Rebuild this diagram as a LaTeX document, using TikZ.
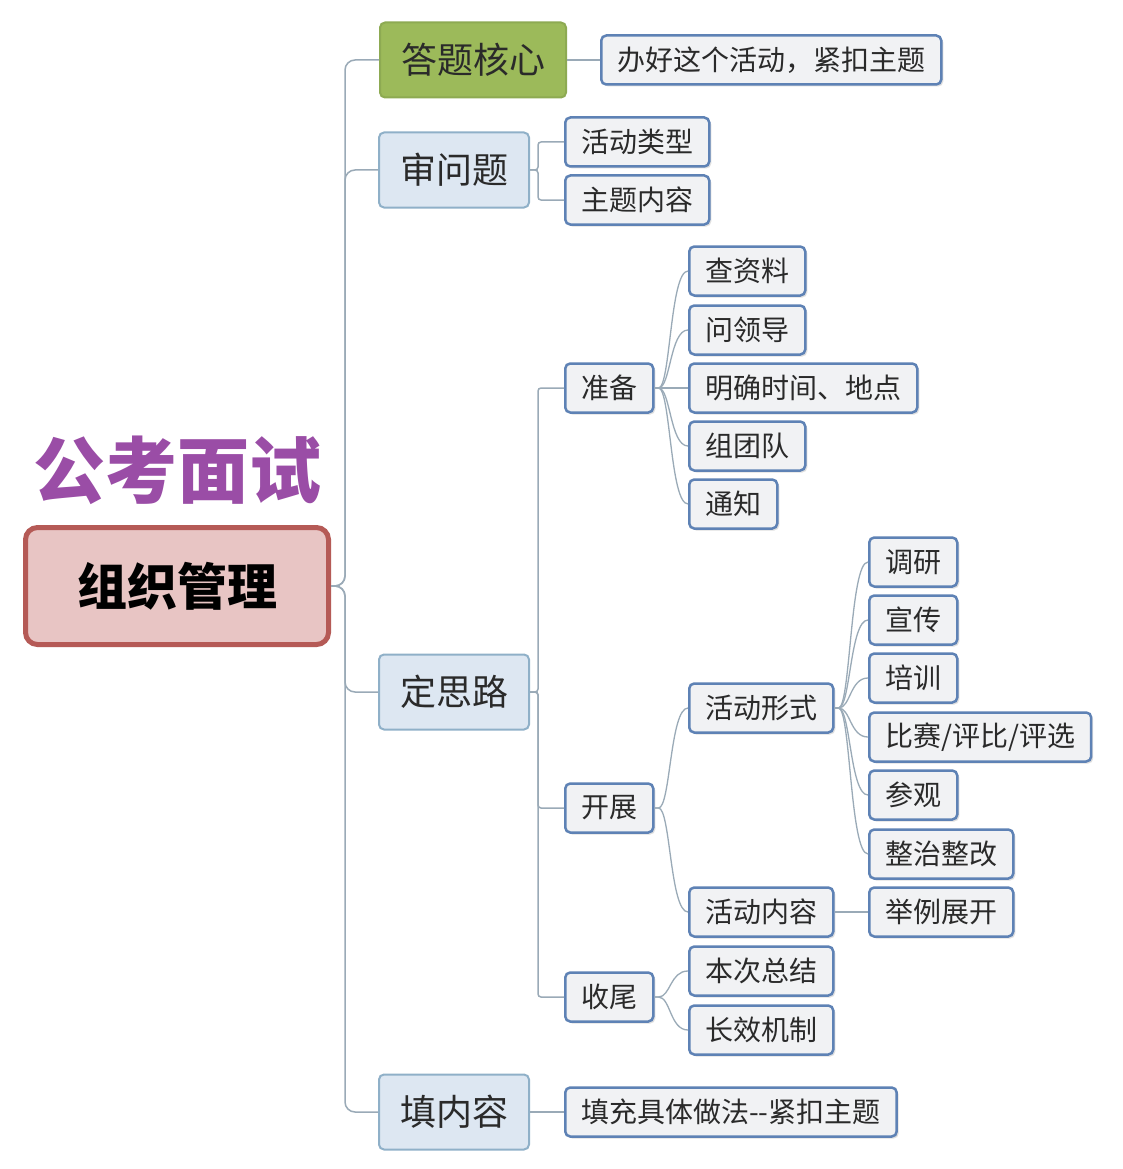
\documentclass[tikz,border=0pt]{standalone}
\usepackage{fontspec}
\setmainfont{Noto Sans CJK SC}
\usetikzlibrary{shadows}
\definecolor{txt}{HTML}{2A2A2A}
\definecolor{leafline}{HTML}{5E82B5}
\definecolor{leaffill}{HTML}{F1F2F4}
\definecolor{branchline}{HTML}{8FB0C8}
\definecolor{branchfill}{HTML}{DDE7F2}
\definecolor{keyfill}{HTML}{9CBA5A}
\definecolor{keyline}{HTML}{8DAA52}
\definecolor{rootfill}{HTML}{E8C5C4}
\definecolor{rootline}{HTML}{B55A56}
\definecolor{titlec}{HTML}{9A4DA6}
\definecolor{linkc}{HTML}{9AAAB7}

\begin{document}
\begin{tikzpicture}[x=1pt,y=-1pt,
  box/.style={rounded corners=5pt,text=txt,inner ysep=0pt,align=center},
  leaf/.style={box,anchor=west,draw=leafline,line width=2.5pt,fill=leaffill,minimum height=49pt,inner xsep=16pt,
    font=\fontsize{28}{30}\selectfont,drop shadow={opacity=0.25,shadow xshift=2pt,shadow yshift=-2pt}},
  branch/.style={box,draw=branchline,line width=2pt,fill=branchfill,minimum height=75pt,inner xsep=21pt,
    font=\fontsize{36}{40}\selectfont},
  key/.style={branch,draw=keyline,fill=keyfill},
  link/.style={draw=linkc,line width=1.5pt},
  fan/.style={draw=linkc,line width=1.3pt}]
\fill[white] (0,0) rectangle (1122,1169);
\useasboundingbox (0,0) rectangle (1122,1169);

\node[text=titlec,font=\fontsize{72}{80}\bfseries\selectfont] (gkms) at (177,470) {公考面试};
\node[draw=rootline,fill=rootfill,line width=5pt,rounded corners=12pt,minimum width=303pt,minimum height=117pt,
  text=black,font=\fontsize{50}{56}\bfseries\selectfont] (zzgl) at (177,586) {组织管理};

\node[key] (dthx) at (473,60) {答题核心};
\node[branch] (swt) at (454,170) {审问题};
\node[branch] (dsl) at (454,692) {定思路};
\node[branch] (tnr) at (454,1112) {填内容};

\node[leaf] (bhzg) at (600,60) {办好这个活动，紧扣主题};
\node[leaf] (hdlx) at (564,142) {活动类型};
\node[leaf] (ztnr) at (564,200) {主题内容};
\node[leaf] (tczt) at (564,1112) {填充具体做法-{}-紧扣主题};

\node[leaf] (zb) at (564,388) {准备};
\node[leaf] (kz) at (564,808) {开展};
\node[leaf] (sw) at (564,997) {收尾};

\node[leaf] (czl) at (688,271) {查资料};
\node[leaf] (wld) at (688,330) {问领导};
\node[leaf] (mqsj) at (688,388) {明确时间、地点};
\node[leaf] (ztd) at (688,446) {组团队};
\node[leaf] (tz) at (688,504) {通知};

\node[leaf] (hdxs) at (688,708) {活动形式};
\node[leaf] (hdnr) at (688,912) {活动内容};

\node[leaf] (dy) at (868,562) {调研};
\node[leaf] (xc) at (868,620) {宣传};
\node[leaf] (px) at (868,678) {培训};
\node[leaf] (bs) at (868,737) {比赛/评比/评选};
\node[leaf] (cg) at (868,795) {参观};
\node[leaf] (zzzg) at (868,854) {整治整改};
\node[leaf] (jlzk) at (868,912) {举例展开};

\node[leaf] (bczj) at (688,971) {本次总结};
\node[leaf] (cxjz) at (688,1030) {长效机制};

\foreach \b in {dthx,swt,dsl,tnr}
  \draw[link,rounded corners=10pt] (zzgl.east) -- ++(14,0) |- (\b.west);
\draw[link] (dthx.east) -- (bhzg.west);
\draw[link] (tnr.east) -- (tczt.west);
\foreach \c in {hdlx,ztnr}
  \draw[link,rounded corners=3pt] (swt.east) -- ++(8,0) |- (\c.west);
\foreach \c in {zb,kz,sw}
  \draw[link,rounded corners=3pt] (dsl.east) -- ++(8,0) |- (\c.west);

\foreach \c in {czl,wld,mqsj,ztd,tz}
  \draw[fan] (zb.east) -- ++(4,0) .. controls +(12,0) and +(-18,0) .. (\c.west);
\foreach \c in {hdxs,hdnr}
  \draw[fan] (kz.east) -- ++(4,0) .. controls +(12,0) and +(-18,0) .. (\c.west);
\foreach \c in {dy,xc,px,bs,cg,zzzg}
  \draw[fan] (hdxs.east) -- ++(4,0) .. controls +(12,0) and +(-18,0) .. (\c.west);
\draw[link] (hdnr.east) -- (jlzk.west);
\foreach \c in {bczj,cxjz}
  \draw[fan] (sw.east) -- ++(4,0) .. controls +(12,0) and +(-18,0) .. (\c.west);
\end{tikzpicture}
\end{document}
